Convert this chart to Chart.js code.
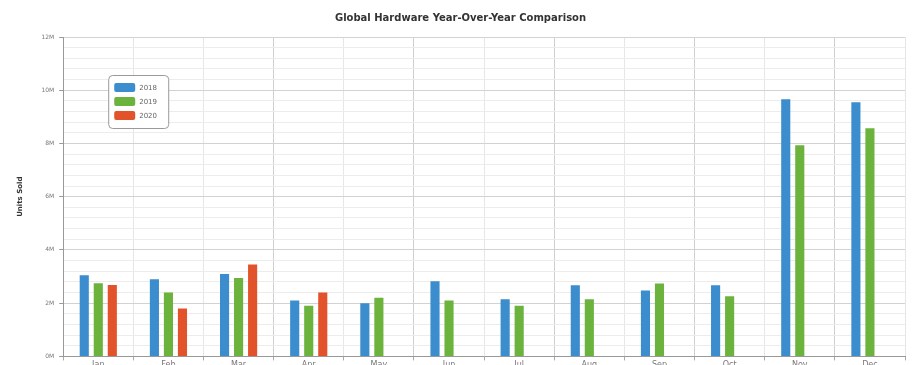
<!DOCTYPE html>
<html>
<head>
<meta charset="utf-8">
<script src="https://cdn.jsdelivr.net/npm/chart.js@4.4.1/dist/chart.umd.min.js"></script>
<style>
  html, body { margin: 0; padding: 0; background: #fff; overflow: hidden; }
  #wrap { width: 915px; height: 365px; overflow: hidden; }
</style>
</head>
<body>
<div id="wrap">
  <canvas id="hwChart" width="915" height="370"></canvas>
</div>
<script>
// data (millions of units)
const months = ['Jan', 'Feb', 'Mar', 'Apr', 'May', 'Jun', 'Jul', 'Aug', 'Sep', 'Oct', 'Nov', 'Dec'];
const years = ['2018', '2019', '2020'];
const units2018 = [3.05, 2.9, 3.1, 2.1, 2.0, 2.82, 2.15, 2.67, 2.48, 2.67, 9.66, 9.55];
const units2019 = [2.75, 2.4, 2.95, 1.9, 2.2, 2.1, 1.9, 2.15, 2.74, 2.26, 7.93, 8.57];
const units2020 = [2.68, 1.8, 3.45, 2.4, null, null, null, null, null, null, null, null];
const yTickLabels = ['0M', '2M', '4M', '6M', '8M', '10M', '12M'];

const colors = ['#3b8dcd', '#6bb33d', '#e3532b'];

const isMajor = (v) => Math.abs(v / 2 - Math.round(v / 2)) < 1e-6;

// legend box drawn inside the plot area
const boxLegend = {
  id: 'boxLegend',
  afterDraw(chart) {
    const ctx = chart.ctx;
    const area = chart.chartArea;
    const x = area.left + 45, y = area.top + 38, w = 60, h = 53;
    ctx.save();
    ctx.fillStyle = '#fff';
    ctx.strokeStyle = '#9a9a9a';
    ctx.lineWidth = 1;
    ctx.beginPath();
    ctx.roundRect(x + 0.5, y + 0.5, w, h, 4);
    ctx.fill();
    ctx.stroke();
    ctx.font = '7px "DejaVu Sans"';
    ctx.textBaseline = 'middle';
    chart.data.datasets.forEach((ds, i) => {
      const ry = y + 8 + i * 14;
      ctx.fillStyle = ds.backgroundColor;
      ctx.beginPath();
      ctx.roundRect(x + 6, ry, 21, 9, 2);
      ctx.fill();
      ctx.fillStyle = '#666';
      ctx.fillText(ds.label, x + 31, ry + 5);
    });
    ctx.restore();
  }
};

new Chart(document.getElementById('hwChart'), {
  type: 'bar',
  data: {
    labels: months,
    datasets: [
      { label: years[0], data: units2018, backgroundColor: colors[0] },
      { label: years[1], data: units2019, backgroundColor: colors[1] },
      { label: years[2], data: units2020, backgroundColor: colors[2] },
    ],
  },
  options: {
    responsive: false,
    animation: false,
    devicePixelRatio: 1,
    categoryPercentage: 0.6,
    barPercentage: 0.65,
    layout: { padding: { left: 16, right: 10, top: 0, bottom: 0 } },
    plugins: {
      legend: { display: false },
      tooltip: { enabled: false },
      title: {
        display: true,
        text: 'Global Hardware Year-Over-Year Comparison',
        color: '#333',
        font: { family: 'DejaVu Sans', size: 10, weight: 'bold' },
        padding: { top: 12, bottom: 13 },
      },
    },
    scales: {
      x: {
        grid: {
          offset: true,
          color: (c) => (c.index % 2 === 1 && c.index > 1 ? '#cfcfcf' : '#e6e6e6'),
          tickColor: '#aaa',
          tickLength: 4,
        },
        border: { color: '#999', width: 1 },
        ticks: { color: '#777', font: { family: 'DejaVu Sans', size: 8 }, padding: 0 },
      },
      y: {
        min: 0,
        max: 12,
        ticks: {
          stepSize: 0.4,
          autoSkip: false,
          color: '#777',
          font: { family: 'DejaVu Sans', size: 6 },
          padding: 5,
          callback: (v) => (isMajor(v) ? yTickLabels[Math.round(v / 2)] : ''),
        },
        grid: {
          color: (c) => (isMajor(c.tick.value) ? '#d2d2d2' : '#ececec'),
          tickColor: (c) => (isMajor(c.tick.value) ? '#999' : 'rgba(0,0,0,0)'),
          tickLength: 4,
        },
        border: { color: '#999', width: 1 },
        title: {
          display: true,
          text: 'Units Sold',
          color: '#333',
          font: { family: 'DejaVu Sans', size: 7, weight: 'bold' },
          padding: { top: 0, bottom: 12 },
        },
      },
    },
  },
  plugins: [boxLegend],
});
</script>
</body>
</html>
